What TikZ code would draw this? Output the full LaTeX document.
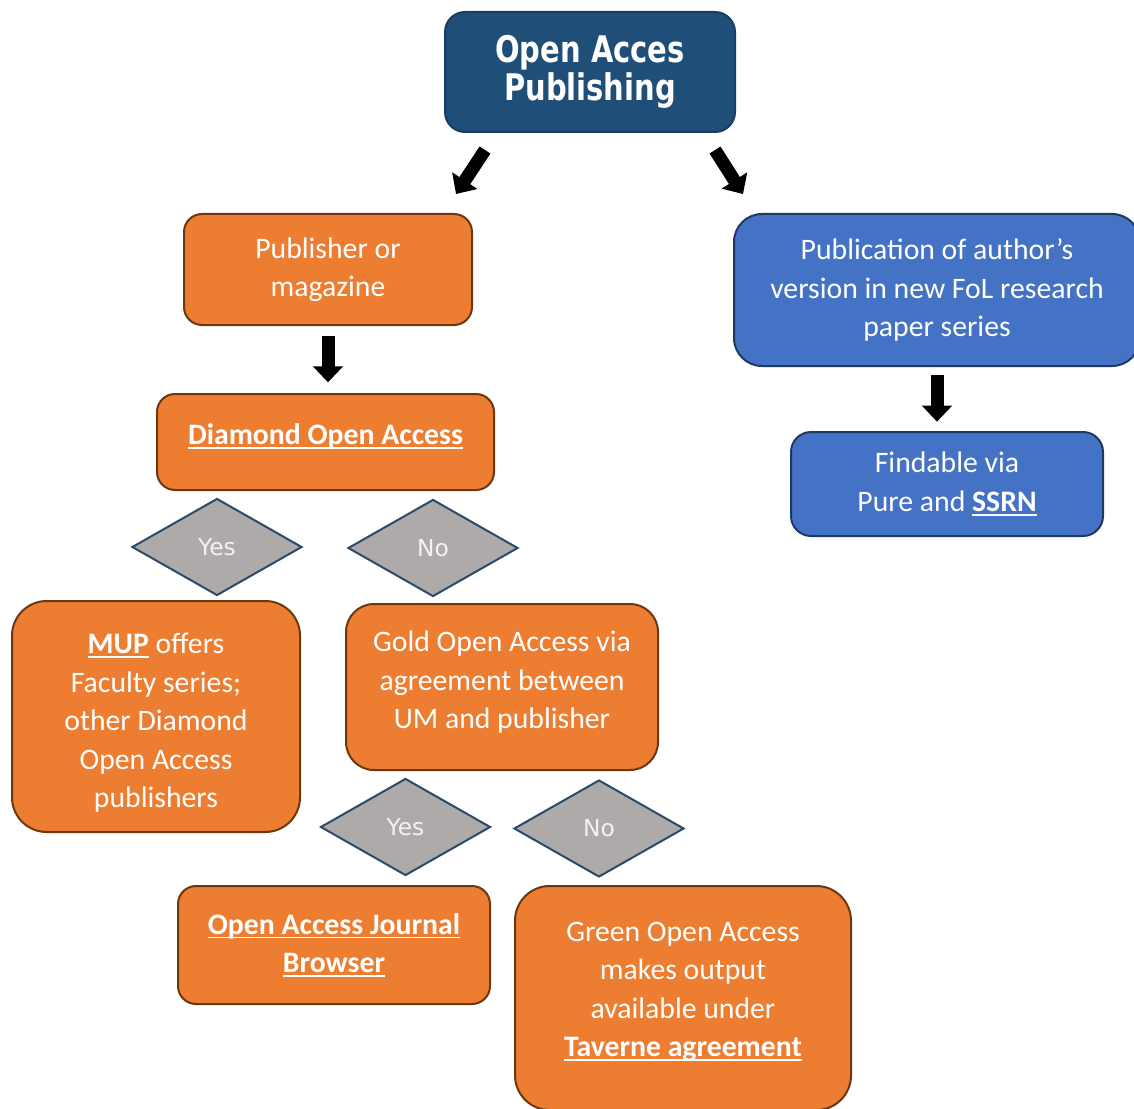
\documentclass[tikz,border=0pt]{standalone}
\usepackage{fontspec}
\setmainfont{Carlito}
\newfontfamily\titlefont[FakeStretch=0.79]{DejaVu Sans}
\newfontfamily\diafont{DejaVu Sans}
\usetikzlibrary{shapes.geometric, arrows.meta}

\definecolor{oaorange}{HTML}{ED7D31}
\definecolor{oabrown}{HTML}{6B3812}
\definecolor{oablue}{HTML}{4472C4}
\definecolor{oanavy}{HTML}{1F3864}
\definecolor{oatitle}{HTML}{1F4E79}
\definecolor{diagray}{HTML}{AEAAAA}
\definecolor{diaedge}{HTML}{2B4A68}

% bold underlined link text
\newcommand{\lnk}[1]{\setbox0\hbox{\bfseries #1}\rlap{\rule[-3.2pt]{\wd0}{1.2pt}}\box0\relax}

\tikzset{
    box/.style={draw, line width=1.5pt, text=white, align=center, inner sep=0pt,
        font=\fontsize{22.3}{28.9}\selectfont},
    orangebox/.style={box, fill=oaorange, draw=oabrown},
    bluebox/.style={box, fill=oablue, draw=oanavy},
    decision/.style={diamond, draw=diaedge, fill=diagray, line width=1.5pt,
        text=white!95!black, inner sep=0pt, minimum width=127.5pt, minimum height=72.75pt,
        font=\diafont\fontsize{17.5}{19}\selectfont},
    bigarrow/.style={line width=9.75pt, -{Triangle[width=22pt,length=12pt]}}
}

\begin{document}
\begin{tikzpicture}[x=0.75pt, y=-0.75pt]
    \useasboundingbox (0,0) rectangle (1134,1109);

    \node[box, fill=oatitle, draw=oatitle!80!black, rounded corners=15pt,
        minimum width=217.5pt, minimum height=90pt,
        font=\titlefont\bfseries\fontsize{27.5}{28.5}\selectfont]
        (title) at (590,72) {Open Acces\\Publishing};

    % left branch
    \node[orangebox, rounded corners=13.5pt, minimum width=216pt, minimum height=83.25pt]
        (publisher) at (328,269.5) {Publisher or\\magazine};
    \node[orangebox, rounded corners=13.5pt, minimum width=252.75pt, minimum height=72pt]
        (diamondoa) at (325.5,442) {\raisebox{12pt}{\lnk{Diamond Open Access}}};
    \node[decision] (yesdia) at (217,547) {Yes};
    \node[decision] (nodia) at (433,548) {No};
    \node[orangebox, rounded corners=26pt, minimum width=216pt, minimum height=173.25pt]
        (mup) at (156,716.5) {\rule{0pt}{25pt}\lnk{MUP} offers\\Faculty series;\\other Diamond\\Open Access\\publishers};
    \node[orangebox, rounded corners=21pt, minimum width=234pt, minimum height=124.5pt]
        (gold) at (502,687) {Gold Open Access via\\agreement between\\UM and publisher\rule[-10.5pt]{0pt}{1pt}};
    \node[decision] (yesgold) at (405.5,827) {Yes};
    \node[decision] (nogold) at (599,828.5) {No};
    \node[orangebox, rounded corners=13.5pt, minimum width=234pt, minimum height=88.5pt]
        (journal) at (334,945) {\lnk{Open Access Journal}\\\lnk{Browser}};
    \node[orangebox, rounded corners=26pt, minimum width=252pt, minimum height=168pt]
        (green) at (683,998) {Green Open Access\\makes output\\available under\\\lnk{Taverne agreement}\rule[-13pt]{0pt}{1pt}};

    % right branch
    \node[bluebox, rounded corners=21pt, minimum width=304.5pt, minimum height=114pt]
        (authorver) at (937,290) {Publication of author’s\\version in new FoL research\\paper series};
    \node[bluebox, rounded corners=15pt, minimum width=234pt, minimum height=78pt]
        (findable) at (947,484) {Findable via\\Pure and \lnk{SSRN}};

    % block arrows
    \coordinate (lefttail) at (485,150);
    \coordinate (lefthead) at (456,194);
    \coordinate (righttail) at (715,150);
    \coordinate (righthead) at (743,194);
    \draw[bigarrow] (lefttail) -- (lefthead);
    \draw[bigarrow] (righttail) -- (righthead);
    \draw[bigarrow, shorten <=7.5pt, shorten >=8pt]
        (publisher.south) -- (publisher.south |- diamondoa.north);
    \draw[bigarrow, shorten <=6pt, shorten >=7pt]
        (authorver.south) -- (authorver.south |- findable.north);
\end{tikzpicture}
\end{document}
